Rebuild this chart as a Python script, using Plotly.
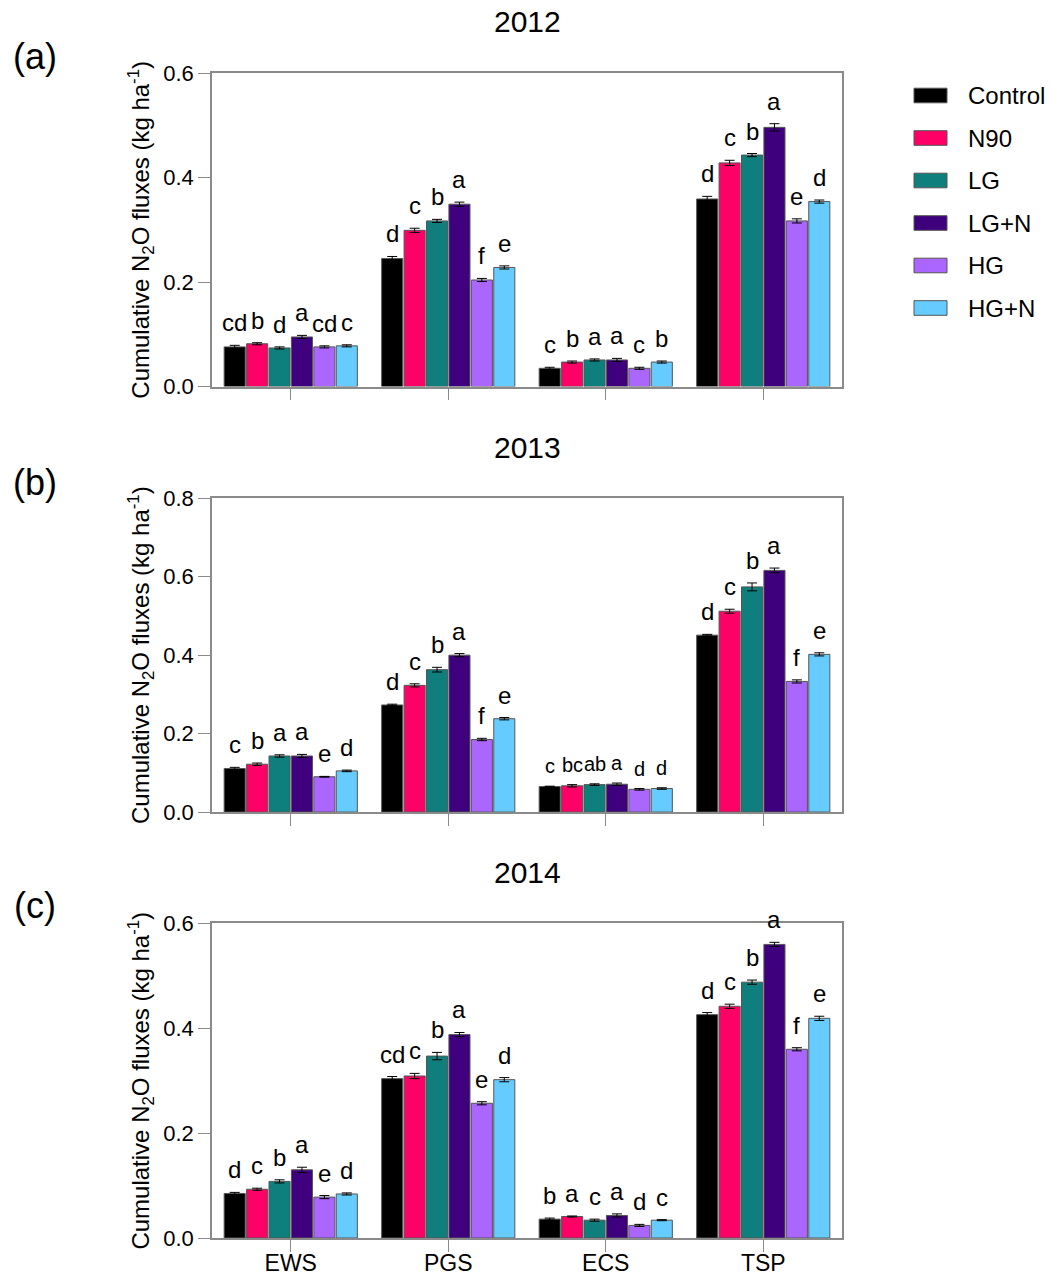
import plotly.graph_objects as go

periods = ["EWS", "PGS", "ECS", "TSP"]
treatments = ["Control", "N90", "LG", "LG+N", "HG", "HG+N"]
colors = ["#000000", "#ff0066", "#0e7f7c", "#3f007d", "#aa66ff", "#66ccff"]
years = ["2012", "2013", "2014"]
panel_tags = ["(a)", "(b)", "(c)"]
y_max = [0.6, 0.8, 0.6]
y_ticks_2012 = [0.0, 0.2, 0.4, 0.6]
y_ticks_2013 = [0.0, 0.2, 0.4, 0.6, 0.8]
y_ticks_2014 = [0.0, 0.2, 0.4, 0.6]

# means per treatment across EWS, PGS, ECS, TSP
mean_2012 = {
    "Control": [0.076, 0.245, 0.035, 0.359],
    "N90": [0.082, 0.299, 0.047, 0.428],
    "LG": [0.074, 0.317, 0.051, 0.443],
    "LG+N": [0.095, 0.349, 0.051, 0.496],
    "HG": [0.076, 0.204, 0.035, 0.317],
    "HG+N": [0.078, 0.228, 0.047, 0.354],
}
mean_2013 = {
    "Control": [0.111, 0.273, 0.065, 0.451],
    "N90": [0.122, 0.323, 0.067, 0.512],
    "LG": [0.143, 0.363, 0.070, 0.574],
    "LG+N": [0.143, 0.400, 0.071, 0.616],
    "HG": [0.090, 0.185, 0.058, 0.333],
    "HG+N": [0.105, 0.238, 0.060, 0.402],
}
mean_2014 = {
    "Control": [0.085, 0.304, 0.036, 0.426],
    "N90": [0.093, 0.309, 0.041, 0.442],
    "LG": [0.108, 0.347, 0.034, 0.488],
    "LG+N": [0.130, 0.388, 0.043, 0.560],
    "HG": [0.078, 0.257, 0.024, 0.360],
    "HG+N": [0.084, 0.302, 0.034, 0.419],
}

err_2012 = {
    "Control": [0.003, 0.004, 0.002, 0.005],
    "N90": [0.002, 0.004, 0.002, 0.005],
    "LG": [0.002, 0.003, 0.002, 0.003],
    "LG+N": [0.003, 0.004, 0.003, 0.007],
    "HG": [0.002, 0.003, 0.002, 0.004],
    "HG+N": [0.002, 0.003, 0.002, 0.003],
}
err_2013 = {
    "Control": [0.003, 0.002, 0.001, 0.002],
    "N90": [0.003, 0.004, 0.003, 0.005],
    "LG": [0.003, 0.006, 0.002, 0.010],
    "LG+N": [0.004, 0.004, 0.003, 0.006],
    "HG": [0.001, 0.003, 0.002, 0.004],
    "HG+N": [0.002, 0.003, 0.002, 0.004],
}
err_2014 = {
    "Control": [0.002, 0.004, 0.002, 0.004],
    "N90": [0.002, 0.005, 0.001, 0.004],
    "LG": [0.003, 0.007, 0.002, 0.004],
    "LG+N": [0.005, 0.004, 0.003, 0.004],
    "HG": [0.003, 0.003, 0.002, 0.003],
    "HG+N": [0.002, 0.004, 0.001, 0.004],
}

letters_2012 = {
    "Control": ["cd", "d", "c", "d"],
    "N90": ["b", "c", "b", "c"],
    "LG": ["d", "b", "a", "b"],
    "LG+N": ["a", "a", "a", "a"],
    "HG": ["cd", "f", "c", "e"],
    "HG+N": ["c", "e", "b", "d"],
}
letters_2013 = {
    "Control": ["c", "d", "c", "d"],
    "N90": ["b", "c", "bc", "c"],
    "LG": ["a", "b", "ab", "b"],
    "LG+N": ["a", "a", "a", "a"],
    "HG": ["e", "f", "d", "f"],
    "HG+N": ["d", "e", "d", "e"],
}
letters_2014 = {
    "Control": ["d", "cd", "b", "d"],
    "N90": ["c", "c", "a", "c"],
    "LG": ["b", "b", "c", "b"],
    "LG+N": ["a", "a", "a", "a"],
    "HG": ["e", "e", "d", "f"],
    "HG+N": ["d", "d", "c", "e"],
}

means = [mean_2012, mean_2013, mean_2014]
errs = [err_2012, err_2013, err_2014]
letters = [letters_2012, letters_2013, letters_2014]
yticks = [y_ticks_2012, y_ticks_2013, y_ticks_2014]

FONT = "Arial, Liberation Sans, sans-serif"
BARGAP = 0.146
BARGROUPGAP = 0.06
AXCOL = "#8a8a8a"

# pixel layout (page body margin removed by post_script)
W, H = 1053, 1277
ML = 212
MT = 73
plot_right = 842
plot_bottom = 1238
MR = W - plot_right
MB = H - plot_bottom
plot_h = plot_bottom - MT
plot_w = plot_right - ML
domains = [[0.7308, 1.0], [0.3656, 0.6350], [0.0, 0.2700]]


def px_to_paper_x(sx):
    return (sx - ML) / plot_w


def px_to_paper_y(sy):
    return (plot_bottom - sy) / plot_h


fig = go.Figure()
x_idx = list(range(len(periods)))
n = len(treatments)
slot = (1 - BARGAP) / n

annotations = []
for p in range(3):
    xa = "x" if p == 0 else f"x{p+1}"
    ya = "y" if p == 0 else f"y{p+1}"
    for ti, t in enumerate(treatments):
        fig.add_trace(go.Bar(
            x=x_idx, y=means[p][t], name=t,
            marker=dict(color=colors[ti], line=dict(color="#555555", width=1)),
            error_y=dict(type="data", array=errs[p][t], visible=True,
                         color="#000000", thickness=1, width=5),
            xaxis=xa, yaxis=ya, showlegend=False,
            offsetgroup=str(ti),
        ))
        for gi in x_idx:
            lab = letters[p][t][gi]
            small = (p == 1 and periods[gi] == "ECS")
            annotations.append(dict(
                x=gi + (ti - (n - 1) / 2) * slot,
                y=means[p][t][gi] + errs[p][t][gi],
                xref=xa, yref=ya, text=lab, showarrow=False,
                yanchor="bottom", xanchor="center", yshift=7,
                font=dict(family=FONT, size=20 if small else 24, color="#000000"),
            ))

# panel titles and tags
title_py = [22, 447, 872]
tag_py = [57, 482, 905]
for p in range(3):
    annotations.append(dict(
        x=px_to_paper_x(527), y=px_to_paper_y(title_py[p]),
        xref="paper", yref="paper",
        text=years[p], showarrow=False, xanchor="center", yanchor="middle",
        font=dict(family=FONT, size=30, color="#000000")))
    annotations.append(dict(
        x=px_to_paper_x(35), y=px_to_paper_y(tag_py[p]),
        xref="paper", yref="paper", text=panel_tags[p], showarrow=False,
        xanchor="center", yanchor="middle",
        font=dict(family=FONT, size=36, color="#000000")))

# manual legend
shapes = []
leg_y0 = 95.5
leg_dy = 42.5
for ti, t in enumerate(treatments):
    cy = leg_y0 + ti * leg_dy
    shapes.append(dict(
        type="rect", xref="paper", yref="paper",
        x0=px_to_paper_x(914), x1=px_to_paper_x(947),
        y0=px_to_paper_y(cy + 7.3), y1=px_to_paper_y(cy - 7.3),
        fillcolor=colors[ti], line=dict(color="#555555", width=1)))
    annotations.append(dict(
        x=px_to_paper_x(966), y=px_to_paper_y(cy), xref="paper", yref="paper",
        text=t, showarrow=False, xanchor="left", yanchor="middle",
        font=dict(family=FONT, size=24, color="#000000")))

layout = dict(
    width=W, height=H,
    margin=dict(l=ML, r=MR, t=MT, b=MB, pad=0, autoexpand=False),
    paper_bgcolor="white", plot_bgcolor="white",
    barmode="group", bargap=BARGAP, bargroupgap=BARGROUPGAP,
    font=dict(family=FONT, color="#000000"),
    annotations=annotations, shapes=shapes,
    showlegend=False,
)
for p in range(3):
    xk = "xaxis" if p == 0 else f"xaxis{p+1}"
    yk = "yaxis" if p == 0 else f"yaxis{p+1}"
    ya = "y" if p == 0 else f"y{p+1}"
    xa = "x" if p == 0 else f"x{p+1}"
    layout[xk] = dict(
        domain=[0, 1], anchor=ya, range=[-0.5, len(periods) - 0.5],
        tickvals=x_idx, ticktext=periods, showticklabels=(p == 2),
        ticks="outside", ticklen=12, tickwidth=1, tickcolor=AXCOL,
        ticklabelstandoff=-8,
        showline=True, linecolor=AXCOL, linewidth=1.5, mirror=True,
        showgrid=False, zeroline=False, automargin=False,
        tickfont=dict(family=FONT, size=23, color="#000000"),
    )
    layout[yk] = dict(
        domain=domains[p], anchor=xa, range=[0, y_max[p]],
        tickvals=yticks[p], ticktext=[f"{v:.1f}" for v in yticks[p]],
        ticks="outside", ticklen=12, tickwidth=1, tickcolor=AXCOL,
        showline=True, linecolor=AXCOL, linewidth=1.5, mirror=True,
        showgrid=False, zeroline=False, automargin=False,
        tickfont=dict(family=FONT, size=22, color="#000000"),
        title=dict(text="Cumulative N<sub>2</sub>O fluxes (kg ha<sup>-1</sup>)",
                   font=dict(family=FONT, size=24, color="#000000"), standoff=7),
    )

fig.update_layout(**layout)
fig.write_html(
    "out.html",
    config={"displayModeBar": False},
    post_script="document.body.style.margin='0px';document.body.style.overflow='hidden';",
)
